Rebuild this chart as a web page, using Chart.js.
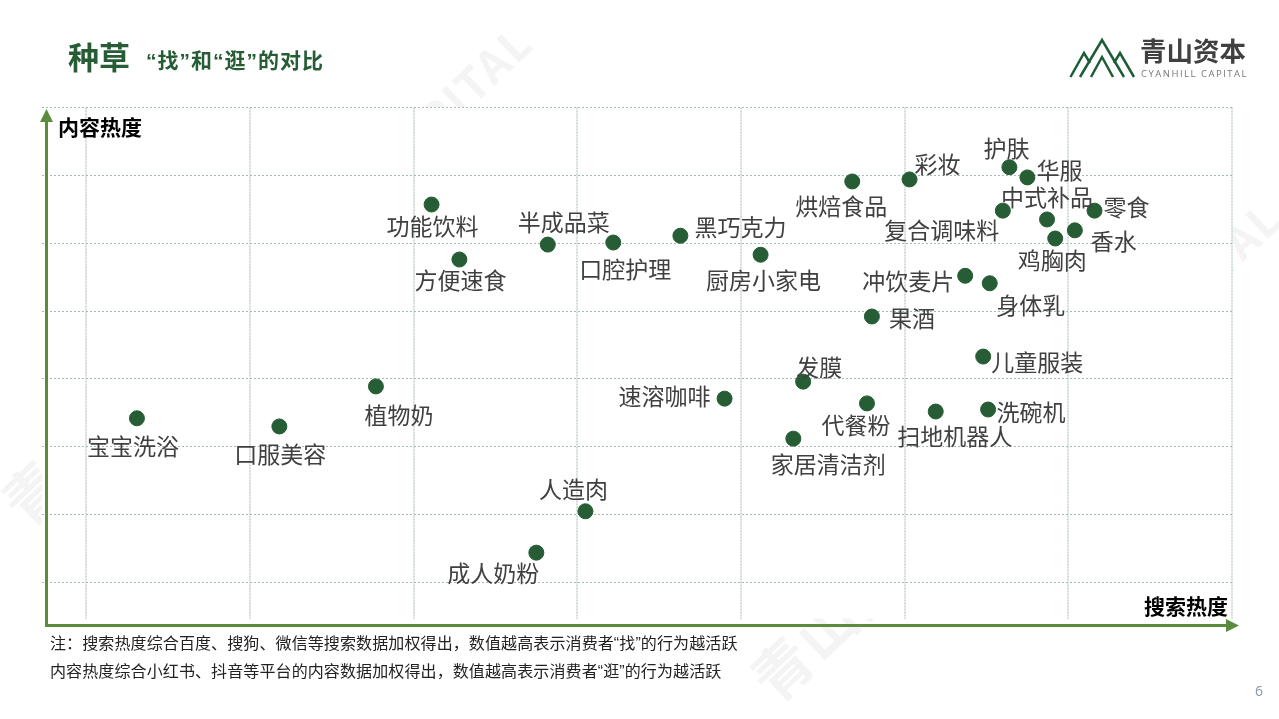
<!DOCTYPE html>
<html lang="zh">
<head>
<meta charset="utf-8">
<title>种草</title>
<script src="https://cdn.jsdelivr.net/npm/chart.js@4"></script>
<style>
    html, body { margin: 0; padding: 0; background: #fff; }
    body { width: 1279px; height: 719px; position: relative; overflow: hidden; font-family: "Liberation Sans", "Noto Sans CJK SC", sans-serif; }
    canvas { position: absolute; left: 0; top: 0; }
    .txt { position: absolute; white-space: nowrap; line-height: 1; }
    .wm { position: absolute; white-space: nowrap; font-size: 58px; font-weight: 700; letter-spacing: 2.4px; color: #f4f4f4; line-height: 1; transform: translate(-50%, -50%) rotate(-43.5deg); }
    .wm span { font-size: 44px; font-family: "Noto Sans CJK SC", sans-serif; }
    #title { left: 68px; top: 43px; font-size: 31px; font-weight: 700; color: #265d35; }
    #subtitle { left: 146px; top: 50px; font-size: 21px; font-weight: 700; letter-spacing: 1px; color: #265d35; }
    #axisY, #axisX { font-size: 21px; font-weight: 700; color: #000; }
    #axisY { left: 58px; top: 117px; }
    #axisX { right: 51px; top: 596px; }
    .note { left: 50px; font-size: 16px; letter-spacing: 0.11px; color: #222; }
    #page { left: 1255px; top: 684px; font-size: 14px; color: #8a97a0; font-family: "Open Sans", sans-serif; }
    #logoCn { left: 1140px; top: 39px; font-size: 26.5px; font-weight: 700; color: #404040; }
    #logoEn { left: 1141px; top: 69px; font-size: 9.5px; color: #777; letter-spacing: 1.5px; font-family: "Open Sans", sans-serif; }
    svg { position: absolute; left: 0; top: 0; }
</style>
</head>
<body>
<div class="wm" style="left:268px;top:273px">青山资本 <span>CYANHILL CAPITAL</span></div>
<div class="wm" style="left:1017px;top:449px">青山资本 <span>CYANHILL CAPITAL</span></div>
<canvas id="chart" width="1279" height="719"></canvas>
<div class="txt" id="title">种草</div>
<div class="txt" id="subtitle">“找”和“逛”的对比</div>
<div class="txt" id="axisY">内容热度</div>
<div class="txt" id="axisX">搜索热度</div>
<div class="txt note" style="top:636px">注&#xFF1A;搜索热度综合百度、搜狗、微信等搜索数据加权得出&#xFF0C;数值越高表示消费者“找”的行为越活跃</div>
<div class="txt note" style="top:664px">内容热度综合小红书、抖音等平台的内容数据加权得出&#xFF0C;数值越高表示消费者“逛”的行为越活跃</div>
<div class="txt" id="page">6</div>
<svg width="1279" height="100" fill="none" stroke="#1b5e36" stroke-width="2.5">
    <path d="M1070.5 77 L1084 53 L1090 63"/>
    <path d="M1080 77 L1102 40 L1124 77"/>
    <path d="M1091 77 L1102 57 L1113 77"/>
    <path d="M1114 63 L1120 53 L1134 77"/>
</svg>
<div class="txt" id="logoCn">青山资本</div>
<div class="txt" id="logoEn">CYANHILL CAPITAL</div>

<script>
const productNames = ['宝宝洗浴', '口服美容', '植物奶', '功能饮料', '方便速食', '半成品菜', '口腔护理', '黑巧克力', '厨房小家电', '速溶咖啡',
    '发膜', '代餐粉', '家居清洁剂', '人造肉', '成人奶粉', '烘焙食品', '彩妆', '护肤', '华服', '复合调味料',
    '中式补品', '零食', '香水', '鸡胸肉', '冲饮麦片', '身体乳', '果酒', '儿童服装', '扫地机器人', '洗碗机'];
const searchHeat = [3.1, 11.8, 17.7, 21.1, 22.8, 28.2, 32.2, 36.3, 41.2, 39.0,
    43.8, 47.7, 43.2, 30.5, 27.5, 46.8, 50.3, 56.4, 57.5, 56.0,
    58.7, 61.6, 60.4, 59.2, 53.7, 55.2, 48.0, 54.8, 51.9, 55.1];
const contentHeat = [24.2, 23.0, 28.9, 55.7, 47.6, 49.8, 50.1, 51.1, 48.3, 27.1,
    29.6, 26.4, 21.2, 10.5, 4.4, 59.1, 59.4, 61.2, 59.7, 54.8,
    53.5, 54.8, 51.9, 50.7, 45.2, 44.1, 39.2, 33.3, 25.2, 25.5];
const xTickValues = [0, 10, 20, 30, 40, 50, 60, 70];
const yTickValues = [0, 10, 20, 30, 40, 50, 60, 70];

// label placement relative to its dot, in px
const labelDx = [-4, 1, 23, 1, 1, 16, 12, 60, 3, -60,
    16, -11, 35, -12, -43, -11, 28, -3, 32, -61,
    0, 32, 39, -3, -57, 41, 40, 54, 19, 43];
const labelDy = [28, 28, 29, 22, 21, -22, 27, -8, 26, -2,
    -14, 22, 26, -22, 21, 25, -15, -19, -7, 20,
    -22, -3, 11, 22, 5, 22, 2, 6, 25, 3];

const GREEN = '#265d35';
const AXIS_GREEN = '#5b8c3e';

const pagePlugin = {
    id: 'pagePlugin',
    beforeDraw(chart) {
        // the plot covers the watermark
        const { ctx, chartArea: a } = chart;
        ctx.save();
        ctx.fillStyle = '#fff';
        ctx.fillRect(a.left, a.top, a.right - a.left, a.bottom - a.top);
        ctx.restore();
    },
    afterDraw(chart) {
        const { ctx, scales } = chart;
        const ds = chart.data.datasets[0].data;
        ctx.save();

        // axis arrows
        ctx.strokeStyle = AXIS_GREEN;
        ctx.fillStyle = AXIS_GREEN;
        ctx.lineWidth = 3;
        ctx.beginPath();
        ctx.moveTo(46.5, 626);
        ctx.lineTo(46.5, 120);
        ctx.moveTo(45, 625.5);
        ctx.lineTo(1226, 625.5);
        ctx.stroke();
        ctx.beginPath();
        ctx.moveTo(46.5, 109);
        ctx.lineTo(40, 122);
        ctx.lineTo(53, 122);
        ctx.closePath();
        ctx.moveTo(1239, 625.5);
        ctx.lineTo(1226, 619);
        ctx.lineTo(1226, 632);
        ctx.closePath();
        ctx.fill();

        // product labels
        ctx.font = '23px "Noto Sans CJK SC"';
        ctx.fillStyle = '#404040';
        ctx.textAlign = 'center';
        ctx.textBaseline = 'middle';
        ds.forEach((p, i) => {
            ctx.fillText(productNames[i], scales.x.getPixelForValue(p.x) + labelDx[i], scales.y.getPixelForValue(p.y) + labelDy[i]);
        });
        ctx.restore();
    }
};

new Chart(document.getElementById('chart').getContext('2d'), {
    type: 'scatter',
    data: {
        datasets: [{
            data: searchHeat.map((v, i) => ({ x: v, y: contentHeat[i] })),
            backgroundColor: GREEN,
            borderColor: GREEN,
            pointRadius: 7.5,
            pointHoverRadius: 7.5
        }]
    },
    plugins: [pagePlugin],
    options: {
        responsive: false,
        animation: false,
        layout: { padding: { left: 42, right: 47, top: 107.5, bottom: 100.5 } },
        plugins: { legend: { display: false }, tooltip: { enabled: false } },
        scales: {
            x: {
                type: 'linear',
                min: -2.7,
                max: 70,
                afterBuildTicks: axis => { axis.ticks = xTickValues.map(v => ({ value: v })); },
                ticks: { display: false },
                grid: { color: '#d0ddd4', lineWidth: 2, drawTicks: false },
                border: { display: false, dash: [2, 1] }
            },
            y: {
                type: 'linear',
                min: -5.3,
                max: 70,
                afterBuildTicks: axis => { axis.ticks = yTickValues.map(v => ({ value: v })); },
                ticks: { display: false },
                grid: { color: '#a5b9ae', lineWidth: 1, drawTicks: false },
                border: { display: false, dash: [2, 2] }
            }
        }
    }
});
</script>
</body>
</html>
